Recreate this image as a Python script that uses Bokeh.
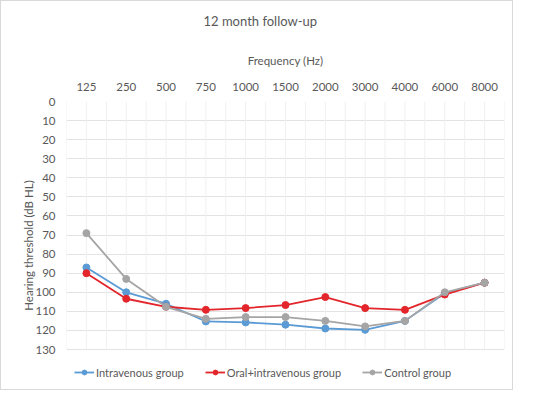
import numpy as np
from bokeh.plotting import figure
from bokeh.layouts import row
from bokeh.models import (Range1d, FixedTicker, LinearAxis, Legend, LegendItem, Title, Spacer)
from bokeh.embed import file_html
from bokeh.resources import INLINE

freqs = ["125", "250", "500", "750", "1000", "1500", "2000", "3000", "4000", "6000", "8000"]
intravenous = [87, 100, 106, 115.3, 115.8, 117, 119, 119.7, 115, 100.5, 95]
oral_iv = [90, 103.4, 107.6, 109.2, 108.3, 106.7, 102.5, 108.3, 109.2, 101.2, 95]
control = [69, 93, 107.6, 113.9, 113, 113, 115, 117.9, 115, 100, 95]
y_ticks = list(range(0, 131, 10))

FONT = "Lato"
TXT = "#595959"

xs = list(np.arange(len(freqs)) + 0.5)
bounds = list(np.arange(len(freqs) + 1).astype(float))

# plot area for the data is 248 px tall; 40 px extra below hold the legend
DATA_H = 248
LEG_H = 40
y_max = y_ticks[-1]
y_bottom = y_max * (DATA_H + LEG_H) / DATA_H

p = figure(frame_width=438, frame_height=DATA_H + LEG_H, output_backend="svg",
           toolbar_location=None,
           x_range=Range1d(0, len(freqs)), y_range=Range1d(y_bottom, 0),
           x_axis_location=None, y_axis_location=None,
           min_border_left=0, min_border_right=8, min_border_top=0, min_border_bottom=0)
p.outline_line_color = None
p.background_fill_color = "white"
p.border_fill_color = "white"

xax = LinearAxis(ticker=FixedTicker(ticks=xs),
                 major_label_overrides={x: f for x, f in zip(xs, freqs)})
xax.axis_label = "Frequency (Hz)"
xax.axis_line_color = None
xax.major_tick_line_color = None
xax.minor_tick_line_color = None
xax.major_tick_out = 0
xax.major_label_standoff = 11
xax.axis_label_standoff = 13
xax.major_label_text_font = FONT
xax.major_label_text_font_size = "11.5px"
xax.major_label_text_color = TXT
xax.axis_label_text_font = FONT
xax.axis_label_text_font_size = "11.5px"
xax.axis_label_text_font_style = "normal"
xax.axis_label_text_color = TXT
p.add_layout(xax, "above")

# blank axis used only as vertical gap between the axis title and the chart title
gap = LinearAxis(ticker=FixedTicker(ticks=xs[:1], minor_ticks=[]),
                 major_label_overrides={xs[0]: ""})
gap.axis_line_color = None
gap.major_tick_line_color = "white"
gap.minor_tick_line_color = None
gap.major_tick_in = 0
gap.major_tick_out = 13
gap.minor_tick_out = 0
gap.major_label_standoff = 0
gap.major_label_text_font_size = "0px"
p.add_layout(gap, "above")

yax = LinearAxis(ticker=FixedTicker(ticks=y_ticks))
yax.axis_label = "Hearing threshold (dB HL)"
yax.axis_line_color = None
yax.major_tick_line_color = None
yax.minor_tick_line_color = None
yax.major_tick_out = 0
yax.major_label_standoff = 11
yax.axis_label_standoff = -3
yax.major_label_text_font = FONT
yax.major_label_text_font_size = "11.5px"
yax.major_label_text_color = TXT
yax.axis_label_text_font = FONT
yax.axis_label_text_font_size = "11.5px"
yax.axis_label_text_font_style = "normal"
yax.axis_label_text_color = TXT
p.add_layout(yax, "left")

# grid: horizontal lines at the y ticks; vertical lines at category centres and
# boundaries, only over the 0..130 data band
p.xgrid.visible = False
p.ygrid.ticker = yax.ticker
p.ygrid.grid_line_color = "#e3e3e3"
vx = sorted(xs + bounds)
p.segment(x0=vx, x1=vx, y0=[y_ticks[0]] * len(vx), y1=[y_ticks[-1]] * len(vx),
          line_color="#f0f0f0", line_width=1)

p.title = Title(text="12 month follow-up", align="left", offset=137, text_font=FONT,
                text_font_size="13px", text_font_style="normal", text_color=TXT,
                standoff=18)

series = [("Intravenous group", intravenous, "#5B9BD5"),
          ("Oral+intravenous group", oral_iv, "#E3262B"),
          ("Control group", control, "#A5A5A5")]
items = []
for name, vals, col in series:
    l = p.line(xs, vals, line_color=col, line_width=1.8)
    s = p.scatter(xs, vals, size=7, fill_color=col, line_color=col)
    items.append(LegendItem(label=name, renderers=[l, s]))

legend = Legend(items=items, orientation="horizontal", location=(8, 7),
                label_text_font=FONT, label_text_font_size="11px", label_text_color=TXT,
                glyph_width=20, glyph_height=12, label_height=20, spacing=21, label_standoff=2,
                border_line_color=None, background_fill_alpha=0, padding=4, margin=0)
p.add_layout(legend, "center")

layout = row(Spacer(width=18), p)
layout.styles = {"border": "1px solid #d9d9d9"}

open("out.html", "w").write(file_html(layout, INLINE))
